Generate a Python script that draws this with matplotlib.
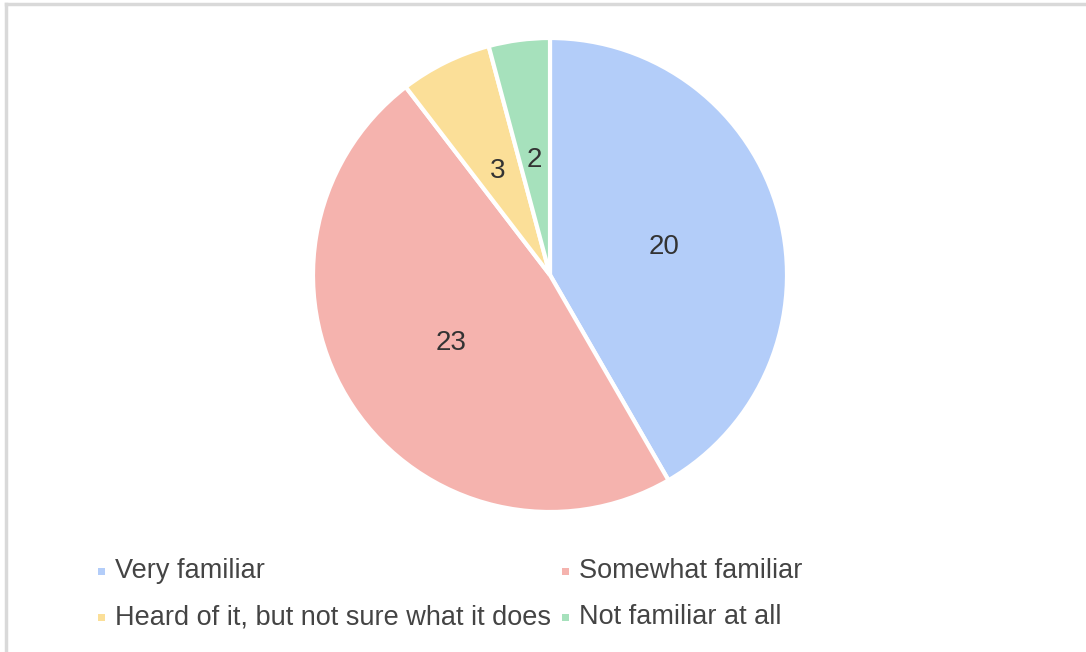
import matplotlib.pyplot as plt
from matplotlib.patches import Rectangle
from matplotlib.lines import Line2D

# =========================
# Data
# =========================

labels = [
    "Very familiar",
    "Somewhat familiar",
    "Heard of it, but not sure what it does",
    "Not familiar at all",
]
counts = [20, 23, 3, 2]
colors = ["#b3cdf9", "#f5b3ae", "#fbdf98", "#a6e1bc"]

W, H = 1086, 652

plt.rcParams["font.family"] = ["Liberation Sans", "DejaVu Sans"]

fig = plt.figure(figsize=(W / 100, H / 100), dpi=100)
fig.patch.set_facecolor("white")

# pie centred at (550, 275) px, radius 237 px
cx, cy, r = 550, 275, 237
ax = fig.add_axes([(cx - r) / W, (H - cy - r) / H, 2 * r / W, 2 * r / H])

total = sum(counts)
wedges, texts, autotexts = ax.pie(
    counts,
    colors=colors,
    startangle=90,
    counterclock=False,
    autopct=lambda p: f"{round(p * total / 100):d}",
    pctdistance=0.5,
    wedgeprops=dict(edgecolor="white", linewidth=3),
    textprops=dict(fontsize=20, color="#333333"),
)
for w in wedges:
    w.set_clip_on(False)
for t in autotexts:
    x, y = t.get_position()
    t.set_position((x, y - 0.01))
ax.set_xlim(-1.0, 1.0)
ax.set_ylim(-1.0, 1.0)
ax.set_aspect("equal")
ax.axis("off")

# legend, laid out by hand in two columns
marker_x = [101, 565]
text_x = [115, 579]
row_y = [571, 617]
ms = 7
for i, (lab, col) in enumerate(zip(labels, colors)):
    c, rw = i % 2, i // 2
    mx, my = marker_x[c], row_y[rw]
    fig.patches.append(Rectangle(((mx - ms / 2) / W, (H - my - ms / 2) / H),
                                 ms / W, ms / H, transform=fig.transFigure,
                                 facecolor=col, edgecolor="none"))
    fig.text(text_x[c] / W, (H - my) / H, lab, fontsize=19.5, color="#444444",
             ha="left", va="center")

# light frame on top and left edges
fig.add_artist(Line2D([6 / W, 1], [1 - 4 / H, 1 - 4 / H], color="#d9d9d9", lw=2.5,
                      transform=fig.transFigure))
fig.add_artist(Line2D([6 / W, 6 / W], [0, 1 - 4 / H], color="#d9d9d9", lw=2.5,
                      transform=fig.transFigure))

fig.savefig("out.png", dpi=100)
